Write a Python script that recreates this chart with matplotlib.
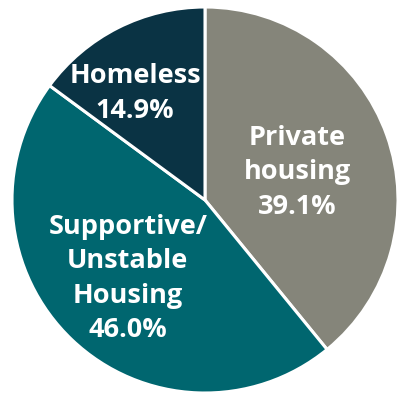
import numpy as np
import matplotlib.pyplot as plt

labels = ["Private\nhousing", "Supportive/\nUnstable\nHousing", "Homeless"]
shares = [39.1, 46.0, 14.9]
colors = ["#85857a", "#00666f", "#0a3344"]

# where each label sits: fraction of radius, and angle nudge from wedge middle
label_r = [0.50, 0.57, 0.66]
label_nudge = [-3.0, -1.0, 6.5]

fig = plt.figure(figsize=(3.97, 3.94), dpi=100)
ax = fig.add_axes([0, 0, 1, 1])

R = 193.0
cx, cy = 205.0, 200.0
wedges, _ = ax.pie(shares, colors=colors, startangle=90, counterclock=False,
                   radius=1.0, wedgeprops=dict(edgecolor="white", linewidth=2.2))

for w, lab, val, r, nd in zip(wedges, labels, shares, label_r, label_nudge):
    mid = np.deg2rad((w.theta1 + w.theta2) / 2 + nd)
    ax.text(r * np.cos(mid), r * np.sin(mid), f"{lab}\n{val:.1f}%",
            ha="center", va="center", color="white", fontsize=19.5,
            fontweight="bold", family="Open Sans", linespacing=1.42)

ax.set_aspect("auto")
ax.set_xlim(-cx / R, (397 - cx) / R)
ax.set_ylim(-(394 - cy) / R, cy / R)
ax.axis("off")

fig.savefig("out.png", dpi=100)
